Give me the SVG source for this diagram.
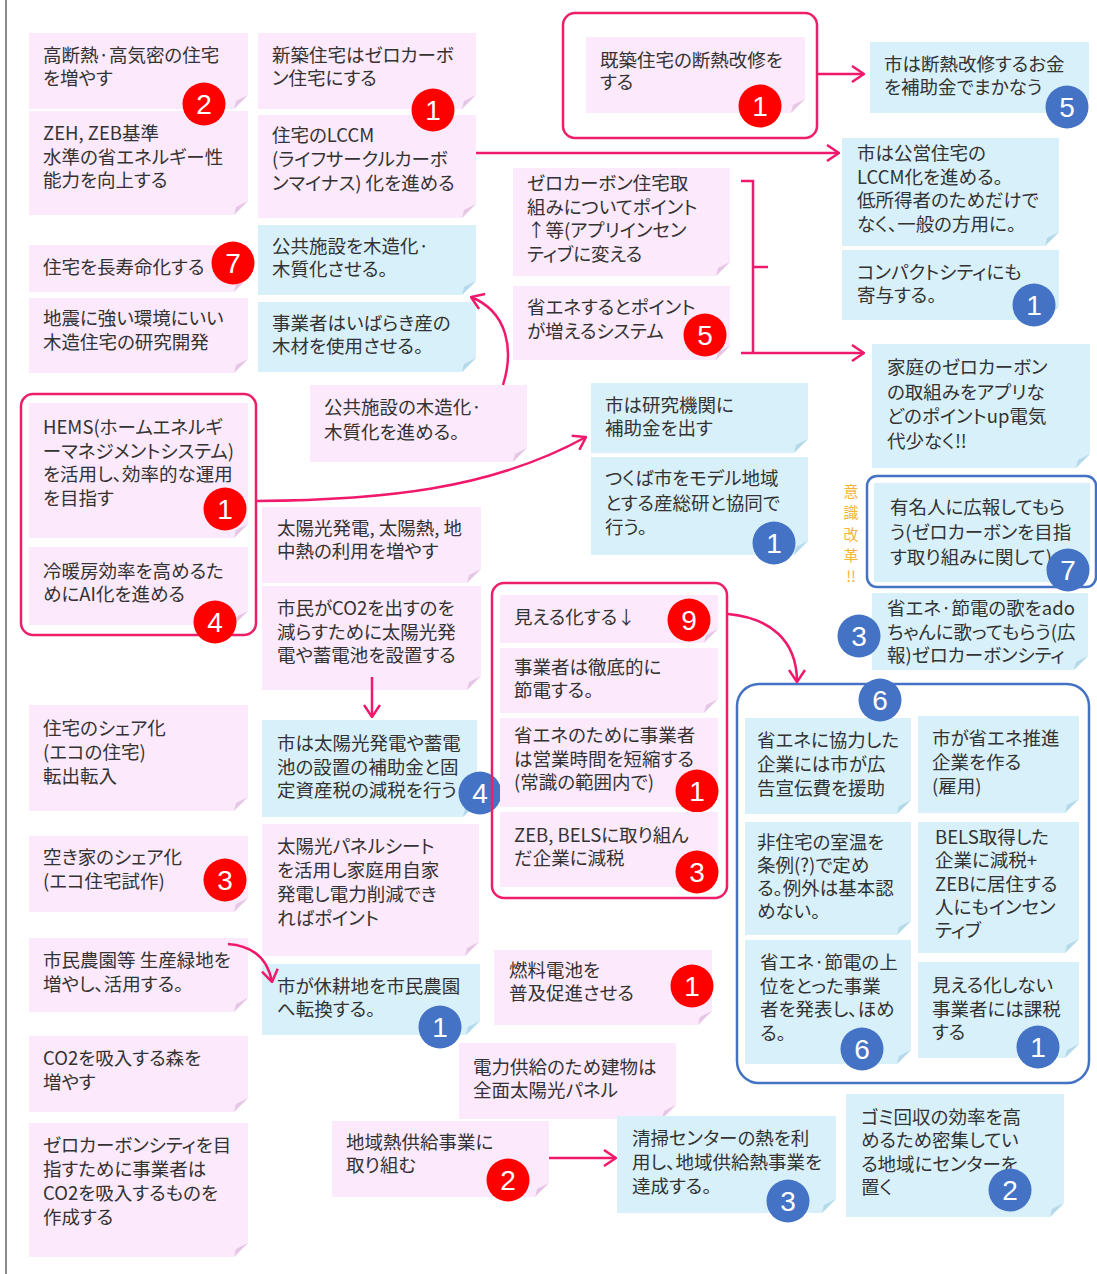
<svg xmlns="http://www.w3.org/2000/svg" xmlns:xlink="http://www.w3.org/1999/xlink" width="1097" height="1274" viewBox="0 0 1097 1274">
<style>
.pk{fill:#fce9fb}
.bl{fill:#d8f0f9}
.t{font-family:"Noto Sans CJK JP","Noto Sans",sans-serif;font-size:18.5px;fill:#333;font-feature-settings:"palt"}
.br{fill:#ff0000}
.bb{fill:#4472c4}
.bn{font-family:"Liberation Sans","Open Sans",sans-serif;font-size:28px;fill:#fff;text-anchor:middle}
.fr{fill:none;stroke:#ee1f69;stroke-width:2.5}
.fb{fill:none;stroke:#4472c4;stroke-width:2.5}
.cn{fill:none;stroke:#f0196b;stroke-width:2.5}
.ar{marker-end:url(#arr)}
.v{font-family:"Noto Sans CJK JP",sans-serif;font-size:15px;fill:#f5b53a;text-anchor:middle}
</style>
<defs>
<marker id="arr" viewBox="0 0 14 18" refX="13" refY="9" markerWidth="14" markerHeight="18" markerUnits="userSpaceOnUse" orient="auto">
<path d="M1,1 L13,9 L1,17" fill="none" stroke="#f0196b" stroke-width="2.5"/>
</marker>
<g id="cp"><path d="M-14,0 L0,0 L0,-14 Z" fill="#fff"/><path d="M-14,0 L0,-14 L-12,-8 Z" fill="#e6c6e6"/></g>
<g id="cb"><path d="M-14,0 L0,0 L0,-14 Z" fill="#fff"/><path d="M-14,0 L0,-14 L-12,-8 Z" fill="#b3d9ea"/></g>
</defs>
<rect width="1097" height="1274" fill="#fff"/>
<line x1="6" y1="0" x2="6" y2="1274" stroke="#8a8a8a" stroke-width="2"/>

<g id="n2"><rect class="pk" x="29" y="111" width="219" height="104"/><use xlink:href="#cp" x="248" y="215"/>
<text class="t" y="140"><tspan x="43">ZEH, ZEB基準</tspan><tspan x="43" dy="23.5">水準の省エネルギー性</tspan><tspan x="43" dy="23.5">能力を向上する</tspan></text></g>

<g id="n1"><rect class="pk" x="29" y="33" width="219" height="76"/><use xlink:href="#cp" x="248" y="109"/>
<text class="t" y="62"><tspan x="43">高断熱·高気密の住宅</tspan><tspan x="43" dy="23">を増やす</tspan></text>
<circle class="br" cx="204" cy="104" r="21.5"/><text class="bn" x="204" y="114">2</text></g>

<g id="n3"><rect class="pk" x="29" y="245" width="219" height="47"/><use xlink:href="#cp" x="248" y="292"/>
<text class="t" x="43" y="274">住宅を長寿命化する</text>
<circle class="br" cx="233" cy="263" r="21.5"/><text class="bn" x="233" y="273">7</text></g>

<g id="n4"><rect class="pk" x="29" y="298" width="219" height="75"/><use xlink:href="#cp" x="248" y="373"/>
<text class="t" y="325"><tspan x="43">地震に強い環境にいい</tspan><tspan x="43" dy="24">木造住宅の研究開発</tspan></text></g>

<g id="hems-group">
<rect class="fr" x="21" y="394" width="235" height="241" rx="12"/>
<g id="n5"><rect class="pk" x="29" y="403" width="219" height="135"/><use xlink:href="#cp" x="248" y="538"/>
<text class="t" y="434"><tspan x="43">HEMS(ホームエネルギ</tspan><tspan x="43" dy="23.5">ーマネジメントシステム)</tspan><tspan x="43" dy="23.5">を活用し、効率的な運用</tspan><tspan x="43" dy="23.5">を目指す</tspan></text>
<circle class="br" cx="225" cy="509" r="21.5"/><text class="bn" x="225" y="519">1</text></g>
<g id="n6"><rect class="pk" x="29" y="547" width="219" height="78"/><use xlink:href="#cp" x="248" y="625"/>
<text class="t" y="578"><tspan x="43">冷暖房効率を高めるた</tspan><tspan x="43" dy="23">めにAI化を進める</tspan></text>
<circle class="br" cx="215" cy="622" r="21.5"/><text class="bn" x="215" y="632">4</text></g>
</g>

<g id="n7"><rect class="pk" x="29" y="705" width="219" height="106"/><use xlink:href="#cp" x="248" y="811"/>
<text class="t" y="735"><tspan x="43">住宅のシェア化</tspan><tspan x="43" dy="24">(エコの住宅)</tspan><tspan x="43" dy="24">転出転入</tspan></text></g>

<g id="n8"><rect class="pk" x="29" y="836" width="219" height="76"/><use xlink:href="#cp" x="248" y="912"/>
<text class="t" y="864"><tspan x="43">空き家のシェア化</tspan><tspan x="43" dy="24">(エコ住宅試作)</tspan></text>
<circle class="br" cx="225" cy="880" r="21.5"/><text class="bn" x="225" y="890">3</text></g>

<g id="n9"><rect class="pk" x="29" y="938" width="219" height="74"/><use xlink:href="#cp" x="248" y="1012"/>
<text class="t" y="967"><tspan x="43">市民農園等 生産緑地を</tspan><tspan x="43" dy="23.5">増やし、活用する。</tspan></text></g>

<g id="n10"><rect class="pk" x="29" y="1036" width="219" height="76"/><use xlink:href="#cp" x="248" y="1112"/>
<text class="t" y="1065"><tspan x="43">CO2を吸入する森を</tspan><tspan x="43" dy="24">増やす</tspan></text></g>

<g id="n11"><rect class="pk" x="29" y="1123" width="219" height="134"/><use xlink:href="#cp" x="248" y="1257"/>
<text class="t" y="1152"><tspan x="43">ゼロカーボンシティを目</tspan><tspan x="43" dy="24">指すために事業者は</tspan><tspan x="43" dy="24">CO2を吸入するものを</tspan><tspan x="43" dy="24">作成する</tspan></text></g>

<g id="n13"><rect class="pk" x="258" y="115" width="218" height="103"/><use xlink:href="#cp" x="476" y="218"/>
<text class="t" y="142"><tspan x="272">住宅のLCCM</tspan><tspan x="272" dy="24">(ライフサークルカーボ</tspan><tspan x="272" dy="24">ンマイナス) 化を進める</tspan></text></g>

<g id="n12"><rect class="pk" x="258" y="33" width="218" height="76"/><use xlink:href="#cp" x="476" y="109"/>
<text class="t" y="62"><tspan x="272">新築住宅はゼロカーボ</tspan><tspan x="272" dy="23">ン住宅にする</tspan></text>
<circle class="br" cx="433" cy="110" r="21.5"/><text class="bn" x="433" y="120">1</text></g>

<g id="n14"><rect class="bl" x="258" y="225" width="218" height="70"/><use xlink:href="#cb" x="476" y="295"/>
<text class="t" y="253"><tspan x="272">公共施設を木造化·</tspan><tspan x="272" dy="23">木質化させる。</tspan></text></g>

<g id="n15"><rect class="bl" x="258" y="302" width="218" height="70"/><use xlink:href="#cb" x="476" y="372"/>
<text class="t" y="330"><tspan x="272">事業者はいばらき産の</tspan><tspan x="272" dy="23">木材を使用させる。</tspan></text></g>

<g id="n16"><rect class="pk" x="310" y="385" width="217" height="77"/><use xlink:href="#cp" x="527" y="462"/>
<text class="t" y="414"><tspan x="324">公共施設の木造化·</tspan><tspan x="324" dy="25">木質化を進める。</tspan></text></g>

<g id="n17"><rect class="pk" x="262" y="507" width="219" height="76"/><use xlink:href="#cp" x="481" y="583"/>
<text class="t" y="535"><tspan x="277">太陽光発電, 太陽熱, 地</tspan><tspan x="277" dy="22.5">中熱の利用を増やす</tspan></text></g>

<g id="n18"><rect class="pk" x="262" y="586" width="219" height="104"/><use xlink:href="#cp" x="481" y="690"/>
<text class="t" y="615"><tspan x="277">市民がCO2を出すのを</tspan><tspan x="277" dy="23.5">減らすために太陽光発</tspan><tspan x="277" dy="23.5">電や蓄電池を設置する</tspan></text></g>

<g id="n19"><rect class="bl" x="262" y="720" width="215" height="97"/><use xlink:href="#cb" x="477" y="817"/>
<text class="t" y="750"><tspan x="277">市は太陽光発電や蓄電</tspan><tspan x="277" dy="23.5">池の設置の補助金と固</tspan><tspan x="277" dy="23.5">定資産税の減税を行う</tspan></text>
<circle class="bb" cx="480" cy="793" r="21.5"/><text class="bn" x="480" y="803">4</text></g>

<g id="n20"><rect class="pk" x="262" y="824" width="217" height="132"/><use xlink:href="#cp" x="479" y="956"/>
<text class="t" y="853"><tspan x="277">太陽光パネルシート</tspan><tspan x="277" dy="24">を活用し家庭用自家</tspan><tspan x="277" dy="24">発電し電力削減でき</tspan><tspan x="277" dy="24">ればポイント</tspan></text></g>

<g id="n21"><rect class="bl" x="262" y="964" width="218" height="71"/><use xlink:href="#cb" x="480" y="1035"/>
<text class="t" y="993"><tspan x="277">市が休耕地を市民農園</tspan><tspan x="277" dy="23">へ転換する。</tspan></text>
<circle class="bb" cx="440" cy="1027" r="21.5"/><text class="bn" x="440" y="1037">1</text></g>

<g id="kichiku-group">
<rect class="fr" x="563" y="13" width="254" height="125" rx="12"/>
<g id="n22"><rect class="pk" x="586" y="37" width="219" height="76"/><use xlink:href="#cp" x="805" y="113"/>
<text class="t" y="67"><tspan x="600">既築住宅の断熱改修を</tspan><tspan x="600" dy="22">する</tspan></text>
<circle class="br" cx="760" cy="106" r="21.5"/><text class="bn" x="760" y="116">1</text></g>
</g>

<g id="n23"><rect class="pk" x="513" y="168" width="217" height="108"/><use xlink:href="#cp" x="730" y="276"/>
<text class="t" y="190"><tspan x="527">ゼロカーボン住宅取</tspan><tspan x="527" dy="23.7">組みについてポイント</tspan><tspan x="527" dy="23.7">↑等(アプリインセン</tspan><tspan x="527" dy="23.7">ティブに変える</tspan></text></g>

<g id="n24"><rect class="pk" x="513" y="286" width="217" height="74"/><use xlink:href="#cp" x="730" y="360"/>
<text class="t" y="314"><tspan x="527">省エネするとポイント</tspan><tspan x="527" dy="24">が増えるシステム</tspan></text>
<circle class="br" cx="705" cy="335" r="21.5"/><text class="bn" x="705" y="345">5</text></g>

<g id="n25"><rect class="bl" x="591" y="383" width="217" height="70"/><use xlink:href="#cb" x="808" y="453"/>
<text class="t" y="412"><tspan x="605">市は研究機関に</tspan><tspan x="605" dy="23">補助金を出す</tspan></text></g>

<g id="n26"><rect class="bl" x="591" y="457" width="217" height="98"/><use xlink:href="#cb" x="808" y="555"/>
<text class="t" y="485"><tspan x="605">つくば市をモデル地域</tspan><tspan x="605" dy="24.5">とする産総研と協同で</tspan><tspan x="605" dy="24.5">行う。</tspan></text>
<circle class="bb" cx="774" cy="543" r="21.5"/><text class="bn" x="774" y="553">1</text></g>

<g id="mieru-group">
<rect class="fr" x="492" y="583" width="235" height="315" rx="12"/>
<g id="n27"><rect class="pk" x="500" y="595" width="218" height="48"/><use xlink:href="#cp" x="718" y="643"/>
<text class="t" x="514" y="624">見える化する↓</text>
<circle class="br" cx="689" cy="620" r="21.5"/><text class="bn" x="689" y="630">9</text></g>
<g id="n28"><rect class="pk" x="500" y="648" width="218" height="65"/><use xlink:href="#cp" x="718" y="713"/>
<text class="t" y="674"><tspan x="514">事業者は徹底的に</tspan><tspan x="514" dy="23">節電する。</tspan></text></g>
<g id="n29"><rect class="pk" x="500" y="718" width="218" height="89"/><use xlink:href="#cp" x="718" y="807"/>
<text class="t" y="742"><tspan x="514">省エネのために事業者</tspan><tspan x="514" dy="23.5">は営業時間を短縮する</tspan><tspan x="514" dy="23.5">(常識の範囲内で)</tspan></text>
<circle class="br" cx="697" cy="791" r="21.5"/><text class="bn" x="697" y="801">1</text></g>
<g id="n30"><rect class="pk" x="500" y="812" width="218" height="75"/><use xlink:href="#cp" x="718" y="887"/>
<text class="t" y="842"><tspan x="514">ZEB, BELSに取り組ん</tspan><tspan x="514" dy="22.5">だ企業に減税</tspan></text>
<circle class="br" cx="697" cy="872" r="21.5"/><text class="bn" x="697" y="882">3</text></g>
</g>

<g id="n31"><rect class="pk" x="494" y="950" width="218" height="75"/><use xlink:href="#cp" x="712" y="1025"/>
<text class="t" y="977"><tspan x="509">燃料電池を</tspan><tspan x="509" dy="23">普及促進させる</tspan></text>
<circle class="br" cx="692" cy="986" r="21.5"/><text class="bn" x="692" y="996">1</text></g>

<g id="n32"><rect class="pk" x="459" y="1043" width="217" height="76"/><use xlink:href="#cp" x="676" y="1119"/>
<text class="t" y="1074"><tspan x="473">電力供給のため建物は</tspan><tspan x="473" dy="23">全面太陽光パネル</tspan></text></g>

<g id="n33"><rect class="pk" x="332" y="1121" width="217" height="76"/><use xlink:href="#cp" x="549" y="1197"/>
<text class="t" y="1149"><tspan x="346">地域熱供給事業に</tspan><tspan x="346" dy="23">取り組む</tspan></text>
<circle class="br" cx="508" cy="1180" r="21.5"/><text class="bn" x="508" y="1190">2</text></g>

<g id="n34"><rect class="bl" x="617" y="1116" width="219" height="97"/><use xlink:href="#cb" x="836" y="1213"/>
<text class="t" y="1145"><tspan x="632">清掃センターの熱を利</tspan><tspan x="632" dy="24">用し、地域供給熱事業を</tspan><tspan x="632" dy="24">達成する。</tspan></text>
<circle class="bb" cx="788" cy="1201" r="21.5"/><text class="bn" x="788" y="1211">3</text></g>

<g id="n35"><rect class="bl" x="870" y="42" width="219" height="71"/><use xlink:href="#cb" x="1089" y="113"/>
<text class="t" y="71"><tspan x="884">市は断熱改修するお金</tspan><tspan x="884" dy="23">を補助金でまかなう</tspan></text>
<circle class="bb" cx="1067" cy="107" r="21.5"/><text class="bn" x="1067" y="117">5</text></g>

<g id="n36"><rect class="bl" x="842" y="138" width="217" height="108"/><use xlink:href="#cb" x="1059" y="246"/>
<text class="t" y="160"><tspan x="857">市は公営住宅の</tspan><tspan x="857" dy="23.5">LCCM化を進める。</tspan><tspan x="857" dy="23.5">低所得者のためだけで</tspan><tspan x="857" dy="23.5">なく、一般の方用に。</tspan></text></g>

<g id="n37"><rect class="bl" x="842" y="250" width="217" height="70"/><use xlink:href="#cb" x="1059" y="320"/>
<text class="t" y="279"><tspan x="857">コンパクトシティにも</tspan><tspan x="857" dy="23">寄与する。</tspan></text>
<circle class="bb" cx="1034" cy="305" r="21.5"/><text class="bn" x="1034" y="315">1</text></g>

<g id="n38"><rect class="bl" x="872" y="344" width="218" height="124"/><use xlink:href="#cb" x="1090" y="468"/>
<text class="t" y="374"><tspan x="887">家庭のゼロカーボン</tspan><tspan x="887" dy="24.5">の取組みをアプリな</tspan><tspan x="887" dy="24.5">どのポイントup電気</tspan><tspan x="887" dy="24.5">代少なく!!</tspan></text></g>

<g id="ishiki-label"><text class="v"><tspan x="851" y="497">意</tspan><tspan x="851" y="518">識</tspan><tspan x="851" y="540">改</tspan><tspan x="851" y="561">革</tspan><tspan x="851" y="582">!!</tspan></text></g>

<g id="yumeijin-group">
<rect class="fb" x="867" y="476" width="229" height="111" rx="10"/>
<g id="n39"><rect class="bl" x="874" y="483" width="216" height="99"/><use xlink:href="#cb" x="1090" y="582"/>
<text class="t" y="514"><tspan x="890">有名人に広報してもら</tspan><tspan x="890" dy="25">う(ゼロカーボンを目指</tspan><tspan x="890" dy="25">す取り組みに関して)</tspan></text>
<circle class="bb" cx="1068" cy="570" r="21.5"/><text class="bn" x="1068" y="580">7</text></g>
</g>

<g id="n40"><rect class="bl" x="872" y="593" width="216" height="77"/><use xlink:href="#cb" x="1088" y="670"/>
<text class="t" y="615"><tspan x="887">省エネ·節電の歌をado</tspan><tspan x="887" dy="23.5">ちゃんに歌ってもらう(広</tspan><tspan x="887" dy="23.5">報)ゼロカーボンシティ</tspan></text>
<circle class="bb" cx="859" cy="636" r="21.5"/><text class="bn" x="859" y="646">3</text></g>

<g id="group6">
<rect class="fb" x="737" y="684" width="352" height="399" rx="22"/>
<g id="n41"><rect class="bl" x="745" y="718" width="166" height="96"/><use xlink:href="#cb" x="911" y="814"/>
<text class="t" y="747"><tspan x="757">省エネに協力した</tspan><tspan x="757" dy="24">企業には市が広</tspan><tspan x="757" dy="24">告宣伝費を援助</tspan></text></g>
<g id="n42"><rect class="bl" x="918" y="716" width="161" height="97"/><use xlink:href="#cb" x="1079" y="813"/>
<text class="t" y="745"><tspan x="932">市が省エネ推進</tspan><tspan x="932" dy="24">企業を作る</tspan><tspan x="932" dy="24">(雇用)</tspan></text></g>
<g id="n43"><rect class="bl" x="745" y="822" width="166" height="113"/><use xlink:href="#cb" x="911" y="935"/>
<text class="t" y="849"><tspan x="757">非住宅の室温を</tspan><tspan x="757" dy="23">条例(?)で定め</tspan><tspan x="757" dy="23">る。例外は基本認</tspan><tspan x="757" dy="23">めない。</tspan></text></g>
<g id="n44"><rect class="bl" x="918" y="822" width="161" height="131"/><use xlink:href="#cb" x="1079" y="953"/>
<text class="t" y="844"><tspan x="935">BELS取得した</tspan><tspan x="935" dy="23.3">企業に減税+</tspan><tspan x="935" dy="23.3">ZEBに居住する</tspan><tspan x="935" dy="23.3">人にもインセン</tspan><tspan x="935" dy="23.3">ティブ</tspan></text></g>
<g id="n45"><rect class="bl" x="745" y="940" width="166" height="124"/><use xlink:href="#cb" x="911" y="1064"/>
<text class="t" y="969"><tspan x="760">省エネ·節電の上</tspan><tspan x="760" dy="23.7">位をとった事業</tspan><tspan x="760" dy="23.7">者を発表し、ほめ</tspan><tspan x="760" dy="23.7">る。</tspan></text>
<circle class="bb" cx="862" cy="1049" r="21.5"/><text class="bn" x="862" y="1059">6</text></g>
<g id="n46"><rect class="bl" x="918" y="962" width="161" height="96"/><use xlink:href="#cb" x="1079" y="1058"/>
<text class="t" y="992"><tspan x="932">見える化しない</tspan><tspan x="932" dy="23.5">事業者には課税</tspan><tspan x="932" dy="23.5">する</tspan></text>
<circle class="bb" cx="1038" cy="1047" r="21.5"/><text class="bn" x="1038" y="1057">1</text></g>
<circle class="bb" cx="880" cy="700" r="21.5"/><text class="bn" x="880" y="710">6</text>
</g>

<g id="n47"><rect class="bl" x="846" y="1094" width="218" height="123"/><use xlink:href="#cb" x="1064" y="1217"/>
<text class="t" y="1124"><tspan x="861">ゴミ回収の効率を高</tspan><tspan x="861" dy="23.3">めるため密集してい</tspan><tspan x="861" dy="23.3">る地域にセンターを</tspan><tspan x="861" dy="23.3">置く</tspan></text>
<circle class="bb" cx="1010" cy="1190" r="21.5"/><text class="bn" x="1010" y="1200">2</text></g>

<g id="connectors">
<path class="cn ar" d="M476,153 H839"/>
<path class="cn ar" d="M817,74 H864"/>
<path class="cn" d="M741,181 H753 V353 M753,267 H768"/>
<path class="cn ar" d="M741,353 H864"/>
<path class="cn ar" d="M503,385 C514,350 508,312 471,297"/>
<path class="cn ar" d="M257,501 C380,500 490,490 586,437"/>
<path class="cn ar" d="M372,677 V717"/>
<path class="cn ar" d="M728,614 C770,618 797,640 797,682"/>
<path class="cn ar" d="M228,944 C255,946 268,960 272,982"/>
<path class="cn ar" d="M549,1158 H616"/>
</g>
</svg>
